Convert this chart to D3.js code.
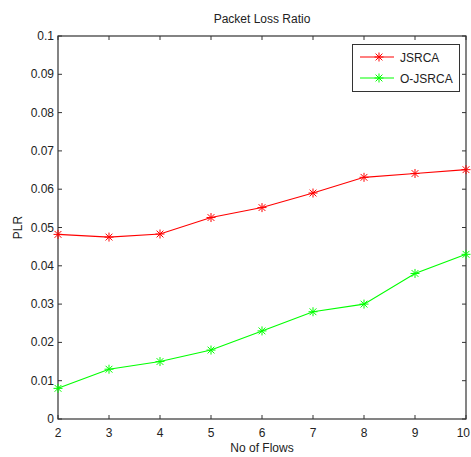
<!DOCTYPE html>
<html><head><meta charset="utf-8">
<script src="https://cdn.jsdelivr.net/npm/d3@7"></script>
<style>body{margin:0;background:#fff}svg text{font-family:"Liberation Sans",Arial,sans-serif;fill:#222}</style>
</head><body><svg id="c" width="471" height="457"></svg>
<script>
const flows = [2,3,4,5,6,7,8,9,10];
const jsrca = [0.0482,0.0475,0.0483,0.0526,0.0552,0.059,0.0631,0.0641,0.0651];
const ojsrca = [0.008,0.013,0.015,0.018,0.023,0.028,0.030,0.038,0.043];
const yTicks = [0,0.01,0.02,0.03,0.04,0.05,0.06,0.07,0.08,0.09,0.1];
const xTicks = [2,3,4,5,6,7,8,9,10];
const seriesNames = ["JSRCA","O-JSRCA"];
const seriesColors = ["#ff0000","#00ff00"];

const svg = d3.select("#c");
const L=58,R=466,T=36,B=419;
const x = d3.scaleLinear().domain([2,10]).range([L,R]);
const y = d3.scaleLinear().domain([0,0.1]).range([B,T]);
const fmt = d=> d===0?"0":String(+d.toFixed(2));

svg.append("rect").attr("x",L).attr("y",T).attr("width",R-L).attr("height",B-T).attr("fill","#fff").attr("stroke","#333").attr("stroke-width",1.2);

const tk=4;
const g = svg.append("g").attr("stroke","#333").attr("stroke-width",1);
xTicks.forEach(t=>{
  g.append("line").attr("x1",x(t)).attr("x2",x(t)).attr("y1",B).attr("y2",B-tk);
  g.append("line").attr("x1",x(t)).attr("x2",x(t)).attr("y1",T).attr("y2",T+tk);
});
yTicks.forEach(t=>{
  g.append("line").attr("x1",L).attr("x2",L+tk).attr("y1",y(t)).attr("y2",y(t));
  g.append("line").attr("x1",R).attr("x2",R-tk).attr("y1",y(t)).attr("y2",y(t));
});
xTicks.forEach((t,i)=>{
  const last = i===xTicks.length-1;
  svg.append("text").attr("x",last?470:x(t)).attr("y",B+18).attr("text-anchor",last?"end":"middle").attr("font-size",12).text(t);
});
yTicks.forEach(t=>{
  svg.append("text").attr("x",L-4).attr("y",y(t)+4).attr("text-anchor","end").attr("font-size",12).text(fmt(t));
});
svg.append("text").attr("x",(L+R)/2).attr("y",23).attr("text-anchor","middle").attr("font-size",12).text("Packet Loss Ratio");
svg.append("text").attr("x",(L+R)/2).attr("y",452).attr("text-anchor","middle").attr("font-size",12).text("No of Flows");
svg.append("text").attr("transform",`translate(22,${(T+B)/2}) rotate(-90)`).attr("text-anchor","middle").attr("font-size",12).text("PLR");

function star(sel,cx,cy,col){
  const s=4.5,d=3.4;
  const p=`M${cx-s},${cy}H${cx+s}M${cx},${cy-s}V${cy+s}M${cx-d},${cy-d}L${cx+d},${cy+d}M${cx-d},${cy+d}L${cx+d},${cy-d}`;
  sel.append("path").attr("d",p).attr("stroke",col).attr("stroke-width",1).attr("fill","none");
}
const line = d3.line().x((d,i)=>x(flows[i])).y(d=>y(d));
[jsrca,ojsrca].forEach((vals,k)=>{
  svg.append("path").attr("d",line(vals)).attr("fill","none").attr("stroke",seriesColors[k]).attr("stroke-width",1.1);
  vals.forEach((v,i)=>star(svg,x(flows[i]),y(v),seriesColors[k]));
});

// legend
const lg = svg.append("g");
lg.append("rect").attr("x",352.5).attr("y",44.5).attr("width",107).attr("height",47).attr("fill","#fff").attr("stroke","#333").attr("stroke-width",1);
seriesNames.forEach((n,k)=>{
  const yy = 57+k*21;
  lg.append("line").attr("x1",360).attr("x2",394).attr("y1",yy).attr("y2",yy).attr("stroke",seriesColors[k]).attr("stroke-width",1.1);
  star(lg,379,yy,seriesColors[k]);
  lg.append("text").attr("x",400).attr("y",yy+4.5).attr("font-size",12).text(n);
});
</script></body></html>
